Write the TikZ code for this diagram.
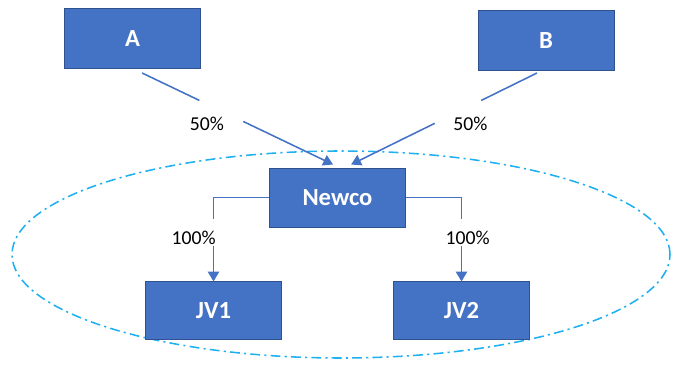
\documentclass[tikz,border=0pt]{standalone}
\usepackage{fontspec}
\setmainfont{Carlito}
\definecolor{officeblue}{RGB}{68, 114, 196}
\definecolor{edgeblue}{RGB}{47, 82, 143}
\definecolor{zonecyan}{RGB}{30, 176, 240}
\usepackage{tikz}
\usetikzlibrary{arrows.meta, positioning, calc}

\begin{document}
\begin{tikzpicture}[
                box/.style={
                    rectangle,
                    draw=edgeblue,
                    line width=0.7pt,
                    fill=officeblue,
                    text=white,
                    minimum width=3.4cm,
                    minimum height=1.5cm,
                    font=\bfseries\fontsize{17.5}{20}\selectfont,
                    align=center
                },
                pct/.style={inner sep=0pt, font=\fontsize{14}{16}\selectfont},
                link/.style={line width=1.1pt, draw=officeblue},
                arrow/.style={-{Triangle[width=8pt,length=7pt]}, line width=1.1pt,
                    draw=officeblue, fill=officeblue},
                zone/.style={zonecyan, line width=1.1pt,
                    dash pattern=on 7pt off 3pt on 1.5pt off 3pt}
            ]

            \useasboundingbox (0,0) rectangle (17,-9.3);

            % Joint venture zone
            \draw [zone] (8.525,-6.3625) ellipse [x radius=8.225cm, y radius=2.5875cm];

            % Parents
            \node (A) [box] at (3.3125,-0.9625) {A};
            \node (B) [box] at (13.65,-1.0125) {B};

            % Newco and its subsidiaries
            \node (newco) [box, minimum height=1.475cm] at (8.4375,-4.9375) {Newco};

            \node (jv1) [box, minimum height=1.45cm, below=1.35cm of newco, xshift=-3.1cm]
            {JV1};

            \node (jv2) [box, minimum height=1.45cm, below=1.35cm of newco, xshift=3.1cm]
            {JV2};

            % Labels
            \node (pcA) [pct] at (5.175,-3.1) {50\%};
            \node (pcB) [pct] at (11.76,-3.1) {50\%};
            \node (pc1) [pct] at (4.84,-5.94) {100\%};
            \node (pc2) [pct] at (11.69,-5.94) {100\%};

            % Arrows from the parents
            \coordinate (a0) at ([shift={(0.24,-0.1)}]A.south);
            \coordinate (a1) at ([shift={(-0.11,0.075)}]newco.north);
            \draw [link] (a0) -- ($(a0)!0.30!(a1)$);
            \draw [arrow] ($(a0)!0.53!(a1)$) -- (a1);

            \coordinate (b0) at ([shift={(-0.225,-0.05)}]B.south);
            \coordinate (b1) at ([shift={(0.34,0.075)}]newco.north);
            \draw [link] (b0) -- ($(b0)!0.30!(b1)$);
            \draw [arrow] ($(b0)!0.55!(b1)$) -- (b1);

            % Arrows to the subsidiaries
            \draw [link] (newco.west) -| ([yshift=1.55cm]jv1.north);
            \draw [arrow] ([yshift=0.875cm]jv1.north) -- (jv1.north);
            \draw [link] (newco.east) -| ([yshift=1.55cm]jv2.north);
            \draw [arrow] ([yshift=0.875cm]jv2.north) -- (jv2.north);

            \end{tikzpicture}
\end{document}
